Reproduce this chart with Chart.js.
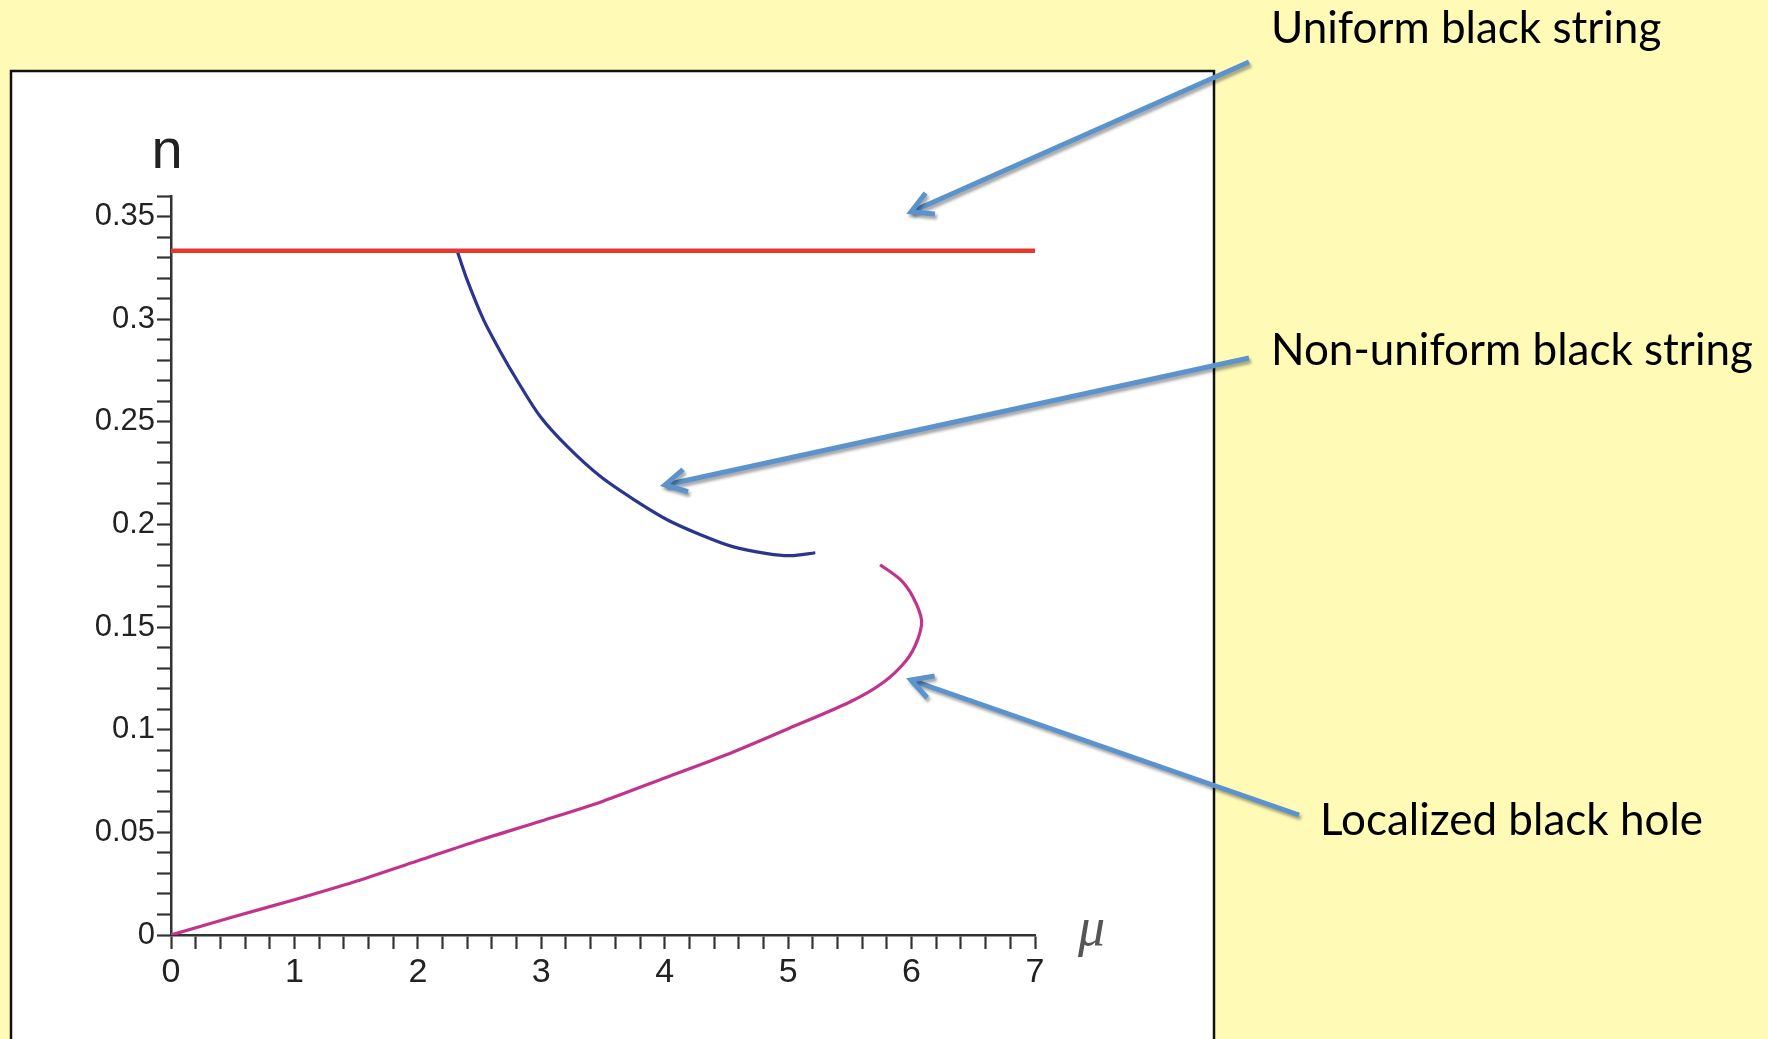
<!DOCTYPE html>
<html>
<head>
<meta charset="utf-8">
<style>
  html, body { margin: 0; padding: 0; background: #FFFBB7; }
  #wrap { width: 1768px; height: 1039px; }
</style>
<script src="https://cdn.jsdelivr.net/npm/chart.js@4.4.1/dist/chart.umd.min.js"></script>
</head>
<body>
<div id="wrap"><canvas id="branchChart" width="1768" height="1039"></canvas></div>
<script>
// values (mu, n)
var uniformMu = [0, 7];
var uniformN = [0.3333, 0.3333];

var nonUniformMu = [2.32, 2.40, 2.53, 2.67, 2.80, 2.99, 3.21, 3.48, 3.75, 4.02, 4.29, 4.55, 4.83, 5.02, 5.22];
var nonUniformN = [0.333, 0.319, 0.300, 0.284, 0.2706, 0.2527, 0.238, 0.2233, 0.2121, 0.2023, 0.195, 0.1892, 0.1858, 0.1848, 0.1862];

var localizedMu = [0, 0.5, 1.0, 1.5, 2.0, 2.5, 3.0, 3.5, 4.0, 4.5, 5.0, 5.5, 5.77, 5.96, 6.05, 6.08, 6.01, 5.91, 5.745];
var localizedN = [0, 0.0088, 0.0172, 0.0262, 0.0362, 0.0462, 0.0555, 0.0652, 0.0765, 0.0878, 0.1005, 0.1135, 0.123, 0.134, 0.144, 0.1536, 0.1648, 0.1731, 0.1804];

var xTickLabels = ['0', '1', '2', '3', '4', '5', '6', '7'];
var yTickLabels = ['0', '0.05', '0.1', '0.15', '0.2', '0.25', '0.3', '0.35'];

function toPoints(xs, ys) {
    return xs.map(function (x, i) { return { x: x, y: ys[i] }; });
}

// yellow slide, white plot box, annotations
var slidePlugin = {
    id: 'slide',
    beforeDraw: function (chart) {
        var c = chart.ctx;
        c.save();
        c.fillStyle = '#FFFBB7';
        c.fillRect(0, 0, chart.width, chart.height);
        c.fillStyle = '#FFFFFF';
        c.fillRect(11, 71, 1203, 1000);
        c.strokeStyle = '#111';
        c.lineWidth = 2.5;
        c.strokeRect(11, 71, 1203, 1000);
        c.restore();
    },
    afterDraw: function (chart) {
        var c = chart.ctx;
        var area = chart.chartArea;
        c.save();

        // axis names
        c.fillStyle = '#222';
        c.font = '56px "Liberation Sans"';
        c.textAlign = 'center';
        c.textBaseline = 'alphabetic';
        c.fillText('n', area.left - 4, area.top - 28);
        c.fillStyle = '#555';
        c.font = 'italic 54px "Liberation Serif"';
        c.textAlign = 'left';
        c.fillText('\u03BC', area.right + 43, area.bottom + 10);

        // arrows
        var arrows = [
            [1249, 62, 911, 212],
            [1249, 358, 665, 485],
            [1299, 815, 911, 680]
        ];
        c.strokeStyle = '#5B93CC';
        c.lineWidth = 5;
        c.lineCap = 'butt';
        c.shadowColor = 'rgba(0,0,0,0.35)';
        c.shadowOffsetX = 2;
        c.shadowOffsetY = 3;
        c.shadowBlur = 3;
        arrows.forEach(function (a) {
            var ang = Math.atan2(a[1] - a[3], a[0] - a[2]);
            c.beginPath();
            c.moveTo(a[0], a[1]);
            c.lineTo(a[2], a[3]);
            c.stroke();
            c.beginPath();
            c.moveTo(a[2] + 24 * Math.cos(ang + 0.5), a[3] + 24 * Math.sin(ang + 0.5));
            c.lineTo(a[2], a[3]);
            c.lineTo(a[2] + 24 * Math.cos(ang - 0.5), a[3] + 24 * Math.sin(ang - 0.5));
            c.stroke();
        });
        c.shadowColor = 'transparent';

        c.fillStyle = '#000';
        c.font = '44px Lato';
        c.textAlign = 'left';
        c.fillText('Uniform black string', 1271, 43);
        c.fillText('Non-uniform black string', 1271, 365);
        c.fillText('Localized black hole', 1320, 835);
        c.restore();
    }
};

var ctx = document.getElementById('branchChart').getContext('2d');

var chartData = {
    datasets: [
        {
            label: 'Uniform black string',
            data: toPoints(uniformMu, uniformN),
            borderColor: '#E5392E',
            borderWidth: 4.5,
            pointRadius: 0,
            showLine: true
        },
        {
            label: 'Non-uniform black string',
            data: toPoints(nonUniformMu, nonUniformN),
            borderColor: '#2A3590',
            borderWidth: 3.2,
            pointRadius: 0,
            showLine: true,
            tension: 0.3
        },
        {
            label: 'Localized black hole',
            data: toPoints(localizedMu, localizedN),
            borderColor: '#C2348B',
            borderWidth: 3.2,
            pointRadius: 0,
            showLine: true,
            tension: 0.3
        }
    ]
};

var chartOptions = {
    responsive: false,
    animation: false,
    layout: {
        padding: { top: 196, right: 733, left: 0, bottom: 0 }
    },
    plugins: {
        legend: { display: false },
        tooltip: { enabled: false }
    },
    scales: {
        x: {
            type: 'linear',
            min: 0,
            max: 7,
            afterFit: function (scale) { scale.height = 104; },
            border: { display: true, color: '#333', width: 2.5 },
            grid: {
                drawOnChartArea: false,
                drawTicks: true,
                tickLength: 14,
                tickColor: '#333',
                tickWidth: 2.2
            },
            ticks: {
                stepSize: 0.2,
                autoSkip: false,
                maxRotation: 0,
                padding: 3,
                color: '#222',
                font: { family: '"Liberation Sans Narrow", "Liberation Sans"', size: 34 },
                callback: function (value) {
                    var r = Math.round(value);
                    return Math.abs(value - r) < 1e-6 ? xTickLabels[r] : '';
                }
            }
        },
        y: {
            type: 'linear',
            min: 0,
            max: 0.36,
            afterFit: function (scale) { scale.width = 171; },
            border: { display: true, color: '#333', width: 2.5 },
            grid: {
                drawOnChartArea: false,
                drawTicks: true,
                tickLength: 14,
                tickColor: '#333',
                tickWidth: 2.2
            },
            ticks: {
                stepSize: 0.01,
                autoSkip: false,
                padding: 2,
                color: '#222',
                font: { family: '"Liberation Sans"', size: 31 },
                callback: function (value) {
                    var k = Math.round(value * 20);
                    return (Math.abs(value * 20 - k) < 1e-6 && k < yTickLabels.length) ? yTickLabels[k] : '';
                }
            }
        }
    }
};

var branchChart = new Chart(ctx, {
    type: 'scatter',
    data: chartData,
    options: chartOptions,
    plugins: [slidePlugin]
});
</script>
</body>
</html>
